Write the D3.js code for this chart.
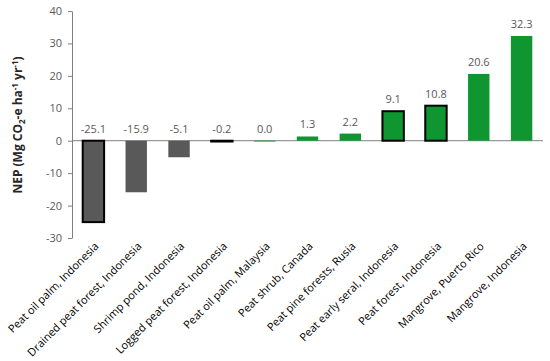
<!DOCTYPE html>
<meta charset="utf-8">
<style>
    body { margin: 0; background: #fff; }
    text { font-family: "Open Sans", "Liberation Sans", sans-serif; }
    .tick text { fill: #595959; font-size: 11px; }
    .domain, .tick line { stroke: #7f7f7f; }
</style>
<svg width="550" height="361"></svg>
<script src="https://d3js.org/d3.v7.min.js"></script>
<script>

    var categories = ["Peat oil palm, Indonesia", "Drained peat forest, Indonesia", "Shrimp pond, Indonesia",
        "Logged peat forest, Indonesia", "Peat oil palm, Malaysia", "Peat shrub, Canada",
        "Peat pine forests, Rusia", "Peat early seral, Indonesia", "Peat forest, Indonesia",
        "Mangrove, Puerto Rico", "Mangrove, Indonesia"];
    var values = [-25.1, -15.9, -5.1, -0.2, 0.0, 1.3, 2.2, 9.1, 10.8, 20.6, 32.3];
    var outlined = [true, false, false, true, false, false, false, true, true, false, false];
    var yTicks = [-30, -20, -10, 0, 10, 20, 30, 40];

    var data = categories.map(function (c, i) {
        return {name: c, value: values[i], outline: outlined[i]};
    });

    var svg = d3.select("svg"),
        g = svg.append("g");

    var x = d3.scaleBand()
        .domain(categories)
        .range([72, 543])
        .paddingInner(0.5)
        .paddingOuter(0.25);

    var y = d3.scaleLinear()
        .domain([-30, 40])
        .range([238, 11]);

    // y axis
    g.append("g")
        .attr("transform", "translate(72,0)")
        .call(d3.axisLeft(y).tickValues(yTicks).tickFormat(function (d) { return String(d); })
            .tickSize(4).tickSizeOuter(0).tickPadding(6));

    // zero line
    g.append("line")
        .attr("x1", 72)
        .attr("x2", 543)
        .attr("y1", y(0))
        .attr("y2", y(0))
        .attr("stroke", "#7f7f7f");

    // bars
    g.selectAll(".bar")
        .data(data)
        .enter().append("rect")
        .attr("class", "bar")
        .attr("x", function (d) { return x(d.name); })
        .attr("width", x.bandwidth())
        .attr("y", function (d) { return y(Math.max(0, d.value)); })
        .attr("height", function (d) { return Math.max(Math.abs(y(d.value) - y(0)), 0.8); })
        .attr("fill", function (d) { return d.value < 0 ? "#595959" : "#0f9631"; })
        .attr("stroke", function (d) { return d.outline ? "#000" : "none"; })
        .attr("stroke-width", 2);

    // value labels
    g.selectAll(".val")
        .data(data)
        .enter().append("text")
        .attr("class", "val")
        .attr("x", function (d) { return x(d.name) + x.bandwidth() / 2; })
        .attr("y", function (d) { return y(Math.max(0, d.value)) - 8; })
        .attr("text-anchor", "middle")
        .attr("fill", "#595959")
        .attr("font-size", "11px")
        .text(function (d) { return d.value.toFixed(1); });

    // category labels
    g.selectAll(".cat")
        .data(data)
        .enter().append("text")
        .attr("class", "cat")
        .attr("transform", function (d) {
            return "translate(" + (x(d.name) + x.bandwidth() / 2 + 6) + ",247) rotate(-45)";
        })
        .attr("text-anchor", "end")
        .attr("fill", "#000")
        .attr("font-size", "11px")
        .text(function (d) { return d.name; });

    // y title
    var title = g.append("text")
        .attr("transform", "translate(22,125) rotate(-90)")
        .attr("text-anchor", "middle")
        .attr("font-size", "12px")
        .attr("font-weight", "bold")
        .attr("fill", "#262626");
    title.append("tspan").text("NEP (Mg CO");
    title.append("tspan").attr("font-size", "8px").attr("dy", 3).text("2");
    title.append("tspan").attr("dy", -3).text("-e ha");
    title.append("tspan").attr("font-size", "8px").attr("dy", -4).text("-1");
    title.append("tspan").attr("dy", 4).text(" yr");
    title.append("tspan").attr("font-size", "8px").attr("dy", -4).text("-1");
    title.append("tspan").attr("dy", 4).text(")");

</script>
